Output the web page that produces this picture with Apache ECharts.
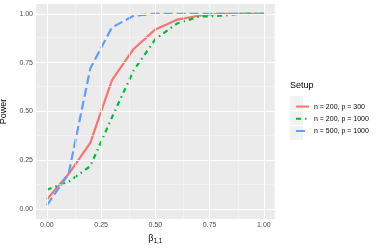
<!DOCTYPE html>
<html><head><meta charset="utf-8">
<script src="https://cdn.jsdelivr.net/npm/echarts@6/dist/echarts.min.js"></script>
<style>html,body{margin:0;padding:0;background:#fff}#c{width:378px;height:252px}</style>
</head><body><div id="c"></div>
<script>
const beta = [0, 0.1, 0.2, 0.3, 0.4, 0.5, 0.6, 0.7, 0.8, 0.9, 1.0];
const power_n200_p300 = [0.05, 0.18, 0.34, 0.66, 0.82, 0.92, 0.97, 0.99, 1.0, 1.0, 1.0];
const power_n200_p1000 = [0.10, 0.14, 0.22, 0.47, 0.71, 0.87, 0.95, 0.985, 0.99, 1.0, 1.0];
const power_n500_p1000 = [0.02, 0.18, 0.72, 0.93, 0.99, 1.0, 1.0, 1.0, 1.0, 1.0, 1.0];
const seriesNames = ['n = 200, p = 300', 'n = 200, p = 1000', 'n = 500, p = 1000'];
const xTicks = [0, 0.25, 0.5, 0.75, 1.0];
const yTicks = [0, 0.25, 0.5, 0.75, 1.0];
const xMinor = [0.125, 0.375, 0.625, 0.875];
const yMinor = [0.125, 0.375, 0.625, 0.875];

const colors = ['#F8766D', '#00BA38', '#619CFF'];
const dashes = ['solid', [5, 4, 1.5, 4], [9, 4]];
const values = [power_n200_p300, power_n200_p1000, power_n500_p1000];

const gridLines = [];
xMinor.forEach(v => gridLines.push({xAxis: v, lineStyle: {width: 0.6, color: '#F7F7F7'}}));
yMinor.forEach(v => gridLines.push({yAxis: v, lineStyle: {width: 0.6, color: '#F7F7F7'}}));
xTicks.forEach(v => gridLines.push({xAxis: v, lineStyle: {width: 1.1, color: '#FFFFFF'}}));
yTicks.forEach(v => gridLines.push({yAxis: v, lineStyle: {width: 1.1, color: '#FFFFFF'}}));

const series = [{
  type: 'line', data: [], z: 1, silent: true,
  markLine: {silent: true, symbol: 'none', label: {show: false}, animation: false,
    lineStyle: {type: 'solid'}, data: gridLines}
}];
seriesNames.forEach((n, i) => {
  series.push({
    name: n, type: 'line', z: 3, symbol: 'none', showSymbol: false,
    data: beta.map((b, j) => [b, values[i][j]]),
    lineStyle: {color: colors[i], width: 2.2, type: dashes[i]},
    itemStyle: {color: colors[i]}
  });
});

const legendTop = 96;
const keyH = 15;
const graphics = [{type: 'text', left: 290, top: 81, style: {text: 'Setup', font: '9px "Liberation Sans", Arial, sans-serif', fill: '#000'}}];
seriesNames.forEach((n, i) => {
  graphics.push({type: 'rect', shape: {x: 290, y: legendTop + i * keyH, width: 13, height: 14}, style: {fill: '#F2F2F2'}, z: 0});
});

const chart = echarts.init(document.getElementById('c'), null, {renderer: 'canvas'});
chart.setOption({
  animation: false,
  backgroundColor: '#fff',
  grid: {left: 36, right: 103.3, top: 4, bottom: 33, show: true, backgroundColor: '#EBEBEB', borderWidth: 0,
    containLabel: false, outerBoundsMode: 'none'},
  xAxis: {
    type: 'value', min: -0.05, max: 1.05,
    axisLine: {show: false},
    splitLine: {show: false},
    axisTick: {show: true, customValues: xTicks, length: 2.5, lineStyle: {color: '#333', width: 1}},
    axisLabel: {customValues: xTicks, formatter: v => v.toFixed(2), color: '#4D4D4D', fontSize: 7, margin: 3, fontFamily: 'Liberation Sans'},
    name: '{b|β}{s|1,1}', nameLocation: 'middle', nameGap: 13,
    nameTextStyle: {rich: {b: {fontSize: 9, color: '#000', fontFamily: 'Liberation Sans'}, s: {fontSize: 6.5, color: '#000', fontFamily: 'Liberation Sans', padding: [5, 0, 0, 0]}}}
  },
  yAxis: {
    type: 'value', min: -0.05, max: 1.05,
    axisLine: {show: false},
    splitLine: {show: false},
    axisTick: {show: true, customValues: yTicks, length: 2.5, lineStyle: {color: '#333', width: 1}},
    axisLabel: {customValues: yTicks, formatter: v => v.toFixed(2), color: '#4D4D4D', fontSize: 7, margin: 3, fontFamily: 'Liberation Sans'},
    name: 'Power', nameLocation: 'middle', nameGap: 20, nameRotate: 90,
    nameTextStyle: {fontSize: 9, color: '#000', fontFamily: 'Liberation Sans'}
  },
  legend: {
    data: seriesNames, orient: 'vertical', left: 290, top: legendTop,
    itemWidth: 13, itemHeight: 14, itemGap: 1,
    itemStyle: {opacity: 0},
    textStyle: {fontSize: 7, color: '#000', fontFamily: 'Liberation Sans'},
    selectedMode: false
  },
  graphic: graphics,
  series: series
});
</script></body></html>
